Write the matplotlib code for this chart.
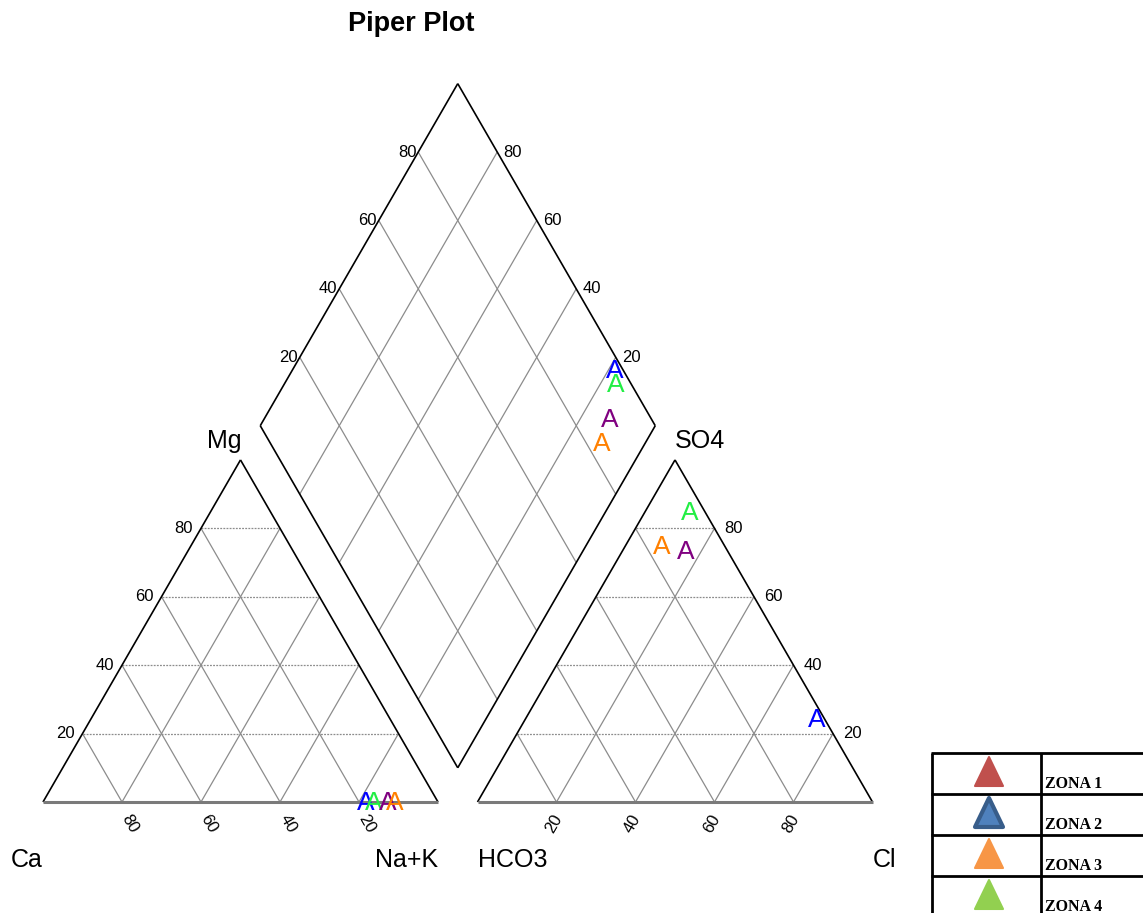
import numpy as np
import matplotlib
matplotlib.use("Agg")
import matplotlib.pyplot as plt
from matplotlib.patches import Polygon

plt.rcParams['font.family'] = ['Liberation Sans', 'DejaVu Sans']

# ---------------- data ----------------
sample_colors = ['#0000ff', '#22ee44', '#800080', '#ff8000']
sample_marker = 'A'
na_k = [81.5, 83.6, 87.2, 88.8]
mg = [0.3, 0.3, 0.3, 0.3]
ca = [100 - n - m for n, m in zip(na_k, mg)]
so4 = [24.6, 85.1, 73.7, 75.4]
cl = [73.5, 11.2, 15.9, 8.9]
hco3 = [100 - s - c for s, c in zip(so4, cl)]

tick_vals = [20, 40, 60, 80]
legend_labels = ['ZONA 1', 'ZONA 2', 'ZONA 3', 'ZONA 4']
legend_fill = ['#c0504d', '#4f81bd', '#f79646', '#92d050']
legend_edge = ['#c0504d', '#385d8a', '#f79646', '#92d050']
legend_lw = [1.5, 3.0, 1.5, 1.5]

# ---------------- layout ----------------
W, H = 1143, 913
S = 3.95            # px per unit
OX, OY = 43, 802    # px of Ca vertex
fig = plt.figure(figsize=(W / 100, H / 100), dpi=100)
ax = fig.add_axes([0, 0, 1, 1])
ax.set_xlim(-OX / S, (W - OX) / S)
ax.set_ylim((OY - H) / S, OY / S)
ax.axis('off')
px = 1.0 / S
h = np.sqrt(3) / 2
off = 110.0
B = np.array([105.0, 5 * np.sqrt(3)])
u1 = np.array([-0.5, h])
u2 = np.array([0.5, h])

grid_kw = dict(color='#8c8c8c', lw=0.9, zorder=1)
dot_kw = dict(color='#8c8c8c', lw=0.9, ls=(0, (1.5, 1)), zorder=1)
edge_kw = dict(color='black', lw=1.2, zorder=2)
base_kw = dict(color='#7a7a7a', lw=2.2, zorder=2)
tick_fs = 12
lab_fs = 18
mark_fs = 19


def line(p, q, **kw):
    ax.plot([p[0], q[0]], [p[1], q[1]], solid_capstyle='butt', **kw)


# ----- triangles -----
for x0 in (0.0, off):
    A0 = np.array([x0, 0.0])
    A1 = np.array([x0 + 100, 0.0])
    Ap = np.array([x0 + 50, 100 * h])
    for t in tick_vals:
        f = t / 100
        base_pt = A0 + f * (A1 - A0)
        # horizontal (dotted)
        line(A0 + f * (Ap - A0), A1 + f * (Ap - A1), **dot_kw)
        # parallel to right edge -> reaches left edge
        line(base_pt, base_pt + (Ap - A1) * f, **grid_kw)
        # parallel to left edge -> reaches right edge
        line(base_pt, base_pt + (Ap - A0) * (1 - f), **grid_kw)
    line(A0, Ap, **edge_kw)
    line(A1, Ap, **edge_kw)
    line(A0, A1, **base_kw)

# ----- diamond -----
L = B + 100 * u1
R = B + 100 * u2
T = B + 100 * u1 + 100 * u2
for t in tick_vals:
    f = t / 100
    line(B + f * 100 * u1, B + f * 100 * u1 + 100 * u2, **grid_kw)
    line(B + f * 100 * u2, B + f * 100 * u2 + 100 * u1, **grid_kw)
for p, q in ((B, L), (L, T), (T, R), (R, B)):
    line(p, q, **edge_kw)

# ----- tick labels -----
for t in tick_vals:
    f = t / 100
    # cation base: Ca %
    ax.text(t + 8 * px, -22 * px, str(100 - t), rotation=-60, ha='center', va='center', fontsize=tick_fs)
    # cation left edge: Mg %
    ax.text(f * 50 - 8 * px, f * 100 * h, str(t), ha='right', va='center', fontsize=tick_fs)
    # anion base: Cl %
    ax.text(off + t - 3 * px, -22 * px, str(t), rotation=60, ha='center', va='center', fontsize=tick_fs)
    # anion right edge: SO4 %
    ax.text(off + 100 - f * 50 + 10 * px, f * 100 * h, str(t), ha='left', va='center', fontsize=tick_fs)
    # diamond upper-left edge
    p = L + f * (T - L)
    ax.text(p[0] - 2 * px, p[1], str(t), ha='right', va='center', fontsize=tick_fs)
    # diamond upper-right edge
    p = R + f * (T - R)
    ax.text(p[0] + 6 * px, p[1], str(t), ha='left', va='center', fontsize=tick_fs)

# ----- corner labels -----
ax.text(0, -58 * px, 'Ca', ha='right', va='center', fontsize=lab_fs)
ax.text(100, -58 * px, 'Na+K', ha='right', va='center', fontsize=lab_fs)
ax.text(off, -58 * px, 'HCO3', ha='left', va='center', fontsize=lab_fs)
ax.text(off + 100, -58 * px, 'Cl', ha='left', va='center', fontsize=lab_fs)
ax.text(50 - 16 * px, 100 * h + 19 * px, 'Mg', ha='center', va='center', fontsize=lab_fs)
ax.text(off + 50, 100 * h + 19 * px, 'SO4', ha='left', va='center', fontsize=lab_fs)

# title
ax.text((411 - OX) * px, (OY - 24) * px, 'Piper Plot', ha='center', va='center',
        fontsize=19.5, fontweight='bold')

# ----- samples -----
for i, col in enumerate(sample_colors):
    cx = na_k[i] + mg[i] / 2
    cy = mg[i] * h
    ax.text(cx, cy, sample_marker, color=col, ha='center', va='center_baseline', fontsize=mark_fs, zorder=5)
    ax_ = off + cl[i] + so4[i] / 2
    ay_ = so4[i] * h
    ax.text(ax_, ay_, sample_marker, color=col, ha='center', va='center_baseline', fontsize=mark_fs, zorder=5)
    P = B + (cl[i] + so4[i]) * u2 + (ca[i] + mg[i]) * u1
    ax.text(P[0], P[1], sample_marker, color=col, ha='center', va='center_baseline', fontsize=mark_fs, zorder=5)

# ----- legend table (pixel axes) -----
lg = fig.add_axes([0, 0, 1, 1])
lg.set_xlim(0, W)
lg.set_ylim(H, 0)
lg.axis('off')
x_left, x_div, y_top, row_h = 932, 1041, 753, 41
n = len(legend_labels)
tab_kw = dict(color='black', lw=2, solid_capstyle='butt')
lg.plot([x_left, x_left], [y_top, H + 5], **tab_kw)
lg.plot([x_div, x_div], [y_top, H + 5], **tab_kw)
for k in range(n + 1):
    yy = y_top + k * row_h
    lg.plot([x_left - 1, W + 5], [yy, yy], **tab_kw)
for k, (lab, fc, ec, lw) in enumerate(zip(legend_labels, legend_fill, legend_edge, legend_lw)):
    y0 = y_top + k * row_h
    cx = 989
    tri = Polygon([[cx, y0 + 4], [cx - 14, y0 + 33], [cx + 14, y0 + 33]], closed=True,
                  facecolor=fc, edgecolor=ec, lw=lw, joinstyle='round')
    lg.add_patch(tri)
    lg.text(x_div + 4, y0 + 35, lab, ha='left', va='baseline', fontsize=11.5,
            fontweight='bold', family=['Liberation Serif', 'DejaVu Serif'])

fig.savefig('out.png', dpi=100)
